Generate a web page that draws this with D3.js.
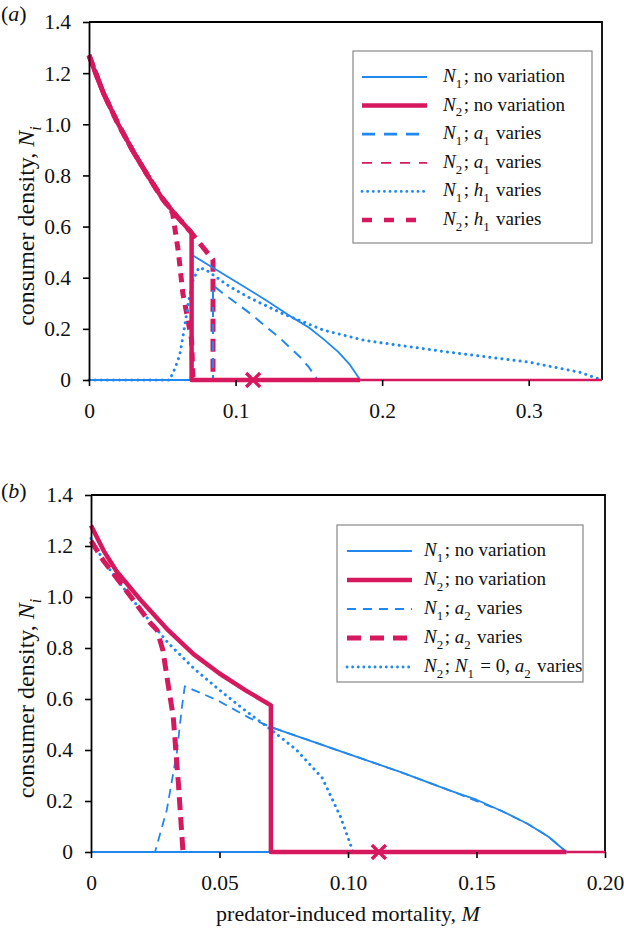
<!DOCTYPE html>
<html><head><meta charset="utf-8">
<script src="https://cdn.jsdelivr.net/npm/d3@7"></script>
<style>body{margin:0;background:#fff}svg{display:block}text{font-family:"Liberation Serif","Times New Roman",serif;fill:#111}</style>
</head><body><svg id="c" width="624" height="928"></svg>
<script>
// ---------- data ----------
const yTicks = [0, 0.2, 0.4, 0.6, 0.8, 1.0, 1.2, 1.4];
const xTicksA = [0, 0.1, 0.2, 0.3];
const xTicksB = [0, 0.05, 0.10, 0.15, 0.20];
const crossM = [0.112];

// panel (a)
const a_N1_none = [[0,0],[0.07,0],[0.07,0.49],[0.1,0.385],[0.12,0.315],[0.14,0.24],[0.15,0.205],[0.16,0.16],[0.17,0.11],[0.178,0.06],[0.185,0]];
const a_N2_none = [[0,1.27],[0.005,1.19],[0.01,1.12],[0.02,1.0],[0.03,0.895],[0.04,0.80],[0.05,0.71],[0.06,0.64],[0.07,0.575],[0.07,0],[0.185,0]];
const a_N1_a1 = [[0,0],[0.0846,0],[0.0846,0.37],[0.09,0.345],[0.11,0.26],[0.13,0.165],[0.144,0.09],[0.15,0.05],[0.156,0]];
const a_N2_a1 = [[0,1.27],[0.01,1.12],[0.02,1.0],[0.03,0.895],[0.04,0.80],[0.05,0.71],[0.06,0.64],[0.07,0.575],[0.0846,0.47],[0.0846,0]];
const a_N1_h1 = [[0,0],[0.055,0],[0.059,0.05],[0.062,0.1],[0.065,0.2],[0.068,0.31],[0.071,0.39],[0.075,0.44],[0.08,0.43],[0.096,0.365],[0.11,0.32],[0.132,0.26],[0.16,0.195],[0.187,0.156],[0.2,0.145],[0.244,0.11],[0.3,0.07],[0.335,0.03],[0.35,0]];
const a_N2_h1 = [[0,1.27],[0.01,1.12],[0.02,1.0],[0.03,0.895],[0.04,0.80],[0.05,0.71],[0.057,0.655],[0.061,0.50],[0.064,0.34],[0.067,0.25],[0.070,0.157],[0.071,0]];

// panel (b)
const b_N1_none = [[0,0],[0.07,0],[0.07,0.49],[0.1,0.385],[0.12,0.315],[0.14,0.24],[0.15,0.205],[0.16,0.16],[0.17,0.11],[0.178,0.06],[0.185,0]];
const b_N2_none = [[0,1.28],[0.005,1.18],[0.01,1.10],[0.02,0.98],[0.03,0.87],[0.04,0.775],[0.05,0.70],[0.06,0.635],[0.07,0.575],[0.07,0],[0.185,0]];
const b_N1_a2 = [[0,0],[0.0249,0],[0.0295,0.165],[0.0334,0.39],[0.0354,0.57],[0.0365,0.65],[0.049,0.596],[0.0618,0.525],[0.07,0.49],[0.1,0.385],[0.12,0.315],[0.14,0.24],[0.16,0.16],[0.17,0.11],[0.178,0.06],[0.185,0]];
const b_N2_a2 = [[0,1.22],[0.005,1.14],[0.01,1.075],[0.0163,0.99],[0.0229,0.90],[0.0257,0.87],[0.028,0.79],[0.0295,0.69],[0.032,0.53],[0.034,0.27],[0.0358,0]];
const b_N2_N10 = [[0,1.23],[0.005,1.14],[0.01,1.07],[0.02,0.94],[0.03,0.82],[0.04,0.72],[0.05,0.635],[0.06,0.555],[0.07,0.48],[0.08,0.40],[0.09,0.29],[0.097,0.14],[0.102,0]];

const legendA = ["*N*_1; no variation","*N*_2; no variation","*N*_1; *a*_1 varies","*N*_2; *a*_1 varies","*N*_1; *h*_1 varies","*N*_2; *h*_1 varies"];
const legendB = ["*N*_1; no variation","*N*_2; no variation","*N*_1; *a*_2 varies","*N*_2; *a*_2 varies","*N*_2; *N*_1 = 0, *a*_2 varies"];

// ---------- styles ----------
const BLUE = "#2188f0", RED = "#d6185e";
const S = {
  solidBlue:{stroke:BLUE,w:1.8,dash:null,cap:"butt"},
  solidRed:{stroke:RED,w:4.5,dash:null,cap:"butt"},
  dashBlueA:{stroke:BLUE,w:2,dash:"10,7",cap:"butt"},
  dashRedThick:{stroke:RED,w:5,dash:"13,7",cap:"butt"},
  dotBlue:{stroke:BLUE,w:3,dash:"0.1,6",cap:"round"},
  shortRed:{stroke:RED,w:5,dash:"9,7",cap:"butt"},
  dashBlueThin:{stroke:BLUE,w:1.8,dash:"9,6",cap:"butt"}
};
const legStylesA = [
  {stroke:BLUE,w:1.8,dash:null},{stroke:RED,w:4.5,dash:null},
  {stroke:BLUE,w:2.8,dash:"13,9"},{stroke:RED,w:1.8,dash:"10,9"},
  {stroke:BLUE,w:2.8,dash:"0.1,5.5",cap:"round"},{stroke:RED,w:4.5,dash:"10,12"}];
const legStylesB = [
  {stroke:BLUE,w:1.8,dash:null},{stroke:RED,w:4.5,dash:null},
  {stroke:BLUE,w:1.8,dash:"9,7"},{stroke:RED,w:5,dash:"14,9"},
  {stroke:BLUE,w:2.8,dash:"0.1,5.5",cap:"round"}];

const svg = d3.select("#c");

function richText(sel, str, size){
  const toks = str.split(/(\*[^*]+\*|_[0-9a-z])/).filter(s=>s.length);
  toks.forEach(t=>{
    if(t[0]==="*"){ sel.append("tspan").attr("font-style","italic").attr("font-size",size).text(t.slice(1,-1)); }
    else if(t[0]==="_"){
      const ch = t.slice(1);
      sel.append("tspan").attr("font-size",size*0.68).attr("dy",size*0.3)
        .attr("font-style", /[a-z]/.test(ch) ? "italic" : null).text(ch);
      sel.append("tspan").attr("font-size",size).attr("dy",-size*0.3).text("\u200A"); }
    else sel.append("tspan").attr("font-size",size).text(t);
  });
}

function panel(cfg){
  const x = d3.scaleLinear().domain(cfg.xd).range(cfg.xr);
  const y = d3.scaleLinear().domain([0,1.4]).range(cfg.yr);
  const g = svg.append("g");
  const line = d3.line().x(d=>x(d[0])).y(d=>y(d[1]));
  g.append("path").attr("d",`M${x.range()[0]},${y(1.4)}H${x.range()[1]}V${y(0)}`)
    .attr("fill","none").attr("stroke","#000").attr("stroke-width",1.8);
  cfg.series.forEach(s=>{
    const st = S[s.style];
    g.append("path").datum(s.data).attr("d",line).attr("fill","none")
      .attr("stroke",st.stroke).attr("stroke-width",st.w)
      .attr("stroke-dasharray",st.dash).attr("stroke-linecap",st.cap).attr("stroke-linejoin","round");
  });
  g.append("path").datum([[cfg.zeroFrom,0],[x.domain()[1],0]]).attr("d",line)
    .attr("fill","none").attr("stroke",RED).attr("stroke-width",2.4);
  crossM.forEach(m=>{
    const cx=x(m), cy=y(0), r=7;
    g.append("path").attr("d",`M${cx-r},${cy-r}L${cx+r},${cy+r}M${cx-r},${cy+r}L${cx+r},${cy-r}`)
      .attr("stroke",RED).attr("stroke-width",3.4);
  });
  const ax = g.append("g").attr("transform",`translate(0,${y(0)})`)
    .call(d3.axisBottom(x).tickValues(cfg.xt).tickFormat(cfg.xf).tickSize(6).tickSizeOuter(0).tickPadding(17));
  const ay = g.append("g").attr("transform",`translate(${x(0)},0)`)
    .call(d3.axisLeft(y).tickValues(yTicks).tickFormat(d=>d===0?"0":d.toFixed(1)).tickSize(6).tickSizeOuter(0).tickPadding(12));
  ax.select(".domain").remove();
  ay.select(".domain").attr("stroke","#000").attr("stroke-width",1.8);
  [ax,ay].forEach(a=>{a.selectAll(".tick line").attr("stroke","#000").attr("stroke-width",1.6);
    a.selectAll(".tick text").attr("font-size",21.5).attr("fill","#111");});
  const yl = g.append("text").attr("transform",`translate(34,${(cfg.yr[0]+cfg.yr[1])/2+24}) rotate(-90)`).attr("text-anchor","middle");
  richText(yl,"consumer density, *N*_i",24);
  const pl = g.append("text").attr("x",1).attr("y",cfg.labelY);
  pl.append("tspan").attr("font-size",22).text("(");
  pl.append("tspan").attr("font-size",22).attr("font-style","italic").text(cfg.label);
  pl.append("tspan").attr("font-size",22).text(")");
  const L = cfg.legend;
  g.append("rect").attr("x",L.x).attr("y",L.y).attr("width",L.w).attr("height",L.h)
    .attr("fill","#fff").attr("stroke","#888").attr("stroke-width",1.2);
  L.labels.forEach((lab,i)=>{
    const st = L.styles[i], ly = L.y0 + i*L.dy;
    g.append("line").attr("x1",L.lx1).attr("x2",L.lx2).attr("y1",ly).attr("y2",ly)
      .attr("stroke",st.stroke).attr("stroke-width",st.w).attr("stroke-dasharray",st.dash)
      .attr("stroke-linecap",st.cap||"butt");
    const t = g.append("text").attr("x",L.tx).attr("y",ly+5);
    richText(t,lab,19);
  });
  return {x,y};
}

panel({
  xd:[0,0.35], xr:[89,602], yr:[380,22], xt:xTicksA, xf:d=>d===0?"0":d.toFixed(1),
  label:"a", labelY:21, zeroFrom:0.185,
  series:[
    {data:a_N2_a1,style:"dashRedThick"},
    {data:a_N2_h1,style:"shortRed"},
    {data:a_N1_none,style:"solidBlue"},
    {data:a_N1_a1,style:"dashBlueA"},
    {data:a_N1_h1,style:"dotBlue"},
    {data:a_N2_none,style:"solidRed"}
  ],
  legend:{x:353,y:51,w:239,h:192,y0:77,dy:28.6,lx1:362,lx2:427,tx:443,labels:legendA,styles:legStylesA}
});
panel({
  xd:[0,0.20], xr:[91,605], yr:[852,495], xt:xTicksB, xf:d=>d===0?"0":d.toFixed(2),
  label:"b", labelY:498, zeroFrom:0.185,
  series:[
    {data:b_N1_none,style:"solidBlue"},
    {data:b_N1_a2,style:"dashBlueThin"},
    {data:b_N2_N10,style:"dotBlue"},
    {data:b_N2_none,style:"solidRed"},
    {data:b_N2_a2,style:"dashRedThick"}
  ],
  legend:{x:337,y:525,w:246,h:157,y0:551,dy:29,lx1:347,lx2:412,tx:424,labels:legendB,styles:legStylesB}
});
const xt = svg.append("text").attr("x",348).attr("y",921).attr("text-anchor","middle");
richText(xt,"predator-induced mortality, *M*",22);
</script></body></html>
